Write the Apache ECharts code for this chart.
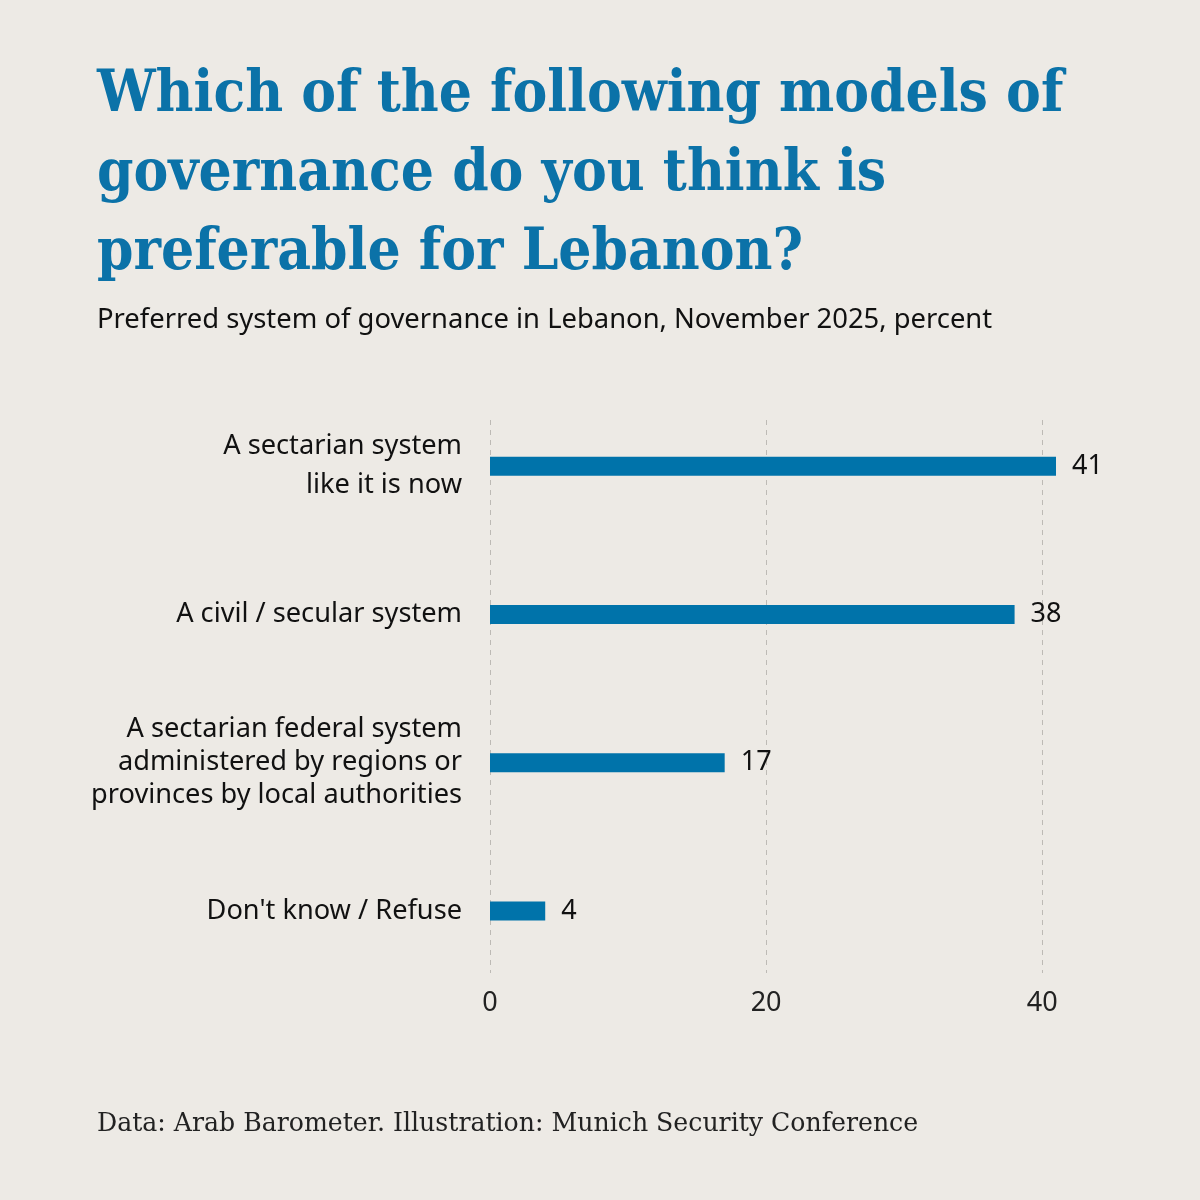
<!doctype html>
<html>
<head>
    <meta charset="UTF-8">
    <script src="https://cdn.jsdelivr.net/npm/echarts@6/dist/echarts.min.js"></script>
    <style>
        html, body { margin: 0; padding: 0; background: #EDEAE5; }
        #chart { width: 1200px; height: 1200px; }
    </style>
</head>
<body>
<div id="chart"></div>
<script type="text/javascript">

    // 数据
    var categories = [
        'A sectarian system\nlike it is now',
        'A civil / secular system',
        'A sectarian federal system\nadministered by regions or\nprovinces by local authorities',
        "Don't know / Refuse"
    ];
    var values = [41, 38, 17, 4];
    var xTicks = [0, 20, 40];

    var blue = '#0073AA';
    var myChart = echarts.init(document.getElementById('chart'));

    var option = {
        backgroundColor: '#EDEAE5',
        title: [{
            text: 'Which of the following models of\ngovernance do you think is\npreferable for Lebanon?',
            left: 92,
            top: 51,
            textStyle: {
                fontFamily: 'DejaVu Serif Condensed',
                fontWeight: 'bold',
                fontSize: 58,
                lineHeight: 79,
                color: '#0B72A8'
            }
        }, {
            text: 'Preferred system of governance in Lebanon, November 2025, percent',
            left: 92,
            top: 302,
            textStyle: {
                fontFamily: 'Noto Sans',
                fontWeight: 'normal',
                fontSize: 27.4,
                color: '#111'
            }
        }, {
            text: 'Data: Arab Barometer. Illustration: Munich Security Conference',
            left: 92,
            top: 1107,
            textStyle: {
                fontFamily: 'DejaVu Serif',
                fontWeight: 'normal',
                fontSize: 25.2,
                color: '#222'
            }
        }],
        grid: [
            // 柱子
            { left: 490, right: 144, top: 392, bottom: 215 },
            // 网格线和刻度
            { left: 490, right: 144, top: 420, bottom: 227 }
        ],
        xAxis: [{
            gridIndex: 0,
            type: 'value',
            min: 0,
            max: 41,
            show: false
        }, {
            gridIndex: 1,
            type: 'value',
            min: 0,
            max: 41,
            interval: 20,
            axisLine: { show: false },
            axisTick: { show: false },
            axisLabel: {
                showMaxLabel: false,
                margin: 17,
                fontFamily: 'Noto Sans',
                fontSize: 27,
                color: '#222',
                formatter: function (v) {
                    return xTicks.indexOf(v) >= 0 ? String(v) : '';
                }
            },
            splitLine: {
                show: true,
                showMaxLine: false,
                lineStyle: { color: '#BDBAB5', type: [5, 5], width: 1 }
            }
        }],
        yAxis: [{
            gridIndex: 0,
            type: 'category',
            data: categories,
            inverse: true,
            axisLine: { show: false },
            axisTick: { show: false },
            axisLabel: {
                margin: 28,
                align: 'right',
                fontFamily: 'Noto Sans',
                fontSize: 27.2,
                lineHeight: 33,
                color: '#111',
                // 第一个标签行距大一点
                formatter: function (v, i) {
                    if (i === 0) {
                        return v.split('\n').map(function (s) {
                            return '{wide|' + s + '}';
                        }).join('\n');
                    }
                    return v;
                },
                rich: {
                    wide: {
                        fontFamily: 'Noto Sans',
                        fontSize: 27.2,
                        lineHeight: 39,
                        color: '#111'
                    }
                }
            }
        }, {
            gridIndex: 1,
            type: 'category',
            data: categories,
            show: false
        }],
        series: [{
            type: 'bar',
            xAxisIndex: 0,
            yAxisIndex: 0,
            data: values,
            barWidth: 19,
            itemStyle: { color: blue },
            label: {
                show: true,
                position: 'right',
                distance: 16,
                fontFamily: 'Noto Sans',
                fontSize: 27,
                color: '#111'
            },
            animation: false
        }]
    };

    myChart.setOption(option);
</script>
</body>
</html>
